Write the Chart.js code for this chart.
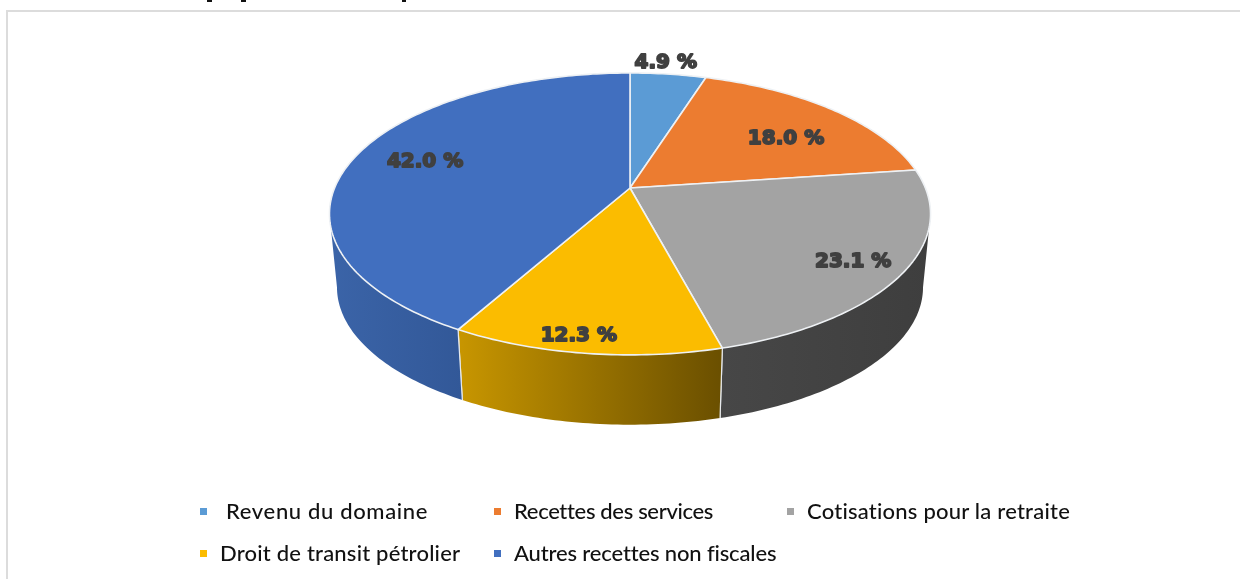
<!DOCTYPE html>
<html><head><meta charset="utf-8">
<style>
html,body{margin:0;padding:0;background:#fff;}
#wrap{position:relative;width:1240px;height:579px;overflow:hidden;background:#fff;}
#frame{position:absolute;left:6px;top:10px;width:1300px;height:700px;border:2px solid #dcdcdc;box-sizing:border-box;}
canvas{position:absolute;left:0;top:0;}
.lg{position:absolute;font:500 22px Lato,sans-serif;color:#111;white-space:nowrap;line-height:26px;}
.mk{position:absolute;width:7px;height:7px;}
.cut{position:absolute;top:0;height:2px;background:#111;}
</style></head>
<body><div id="wrap"><div id="frame"></div>
<div class="cut" style="left:207px;width:5px"></div><div class="cut" style="left:241px;width:5px"></div><div class="cut" style="left:402px;width:4px"></div>
<canvas id="c" width="1240" height="579"></canvas></div>
<script src="https://cdn.jsdelivr.net/npm/chart.js@4/dist/chart.umd.min.js"></script>
<script>
const categories = ["Revenu du domaine","Recettes des services","Cotisations pour la retraite","Droit de transit pétrolier","Autres recettes non fiscales"];
const shares = [4.9,18.0,23.1,12.3,42.0];
const topColors = ["#5b9bd5","#ec7c30","#a3a3a3","#fbbc00","#416fbf"];
const sideLeft = ["#4a80b0","#c06528","#474747","#c89600","#3b64a8"];
const sideRight = ["#3a6a95","#9c5020","#3e3e3e","#6a4f00","#325898"];
const labelRadial = [1.135,0.695,0.84,0.907,0.752];
const labelAngleShift = [-1.4,4.8,1.3,2,1.9];
const legendX = [[200,226],[494,514],[787,807],[200,220],[494,514]];
const legendY = [511,511,511,553,553];
const legendSpacing = [0.65,-0.33,0.22,0.2,-0.15];

const wrap = document.getElementById('wrap');
categories.forEach((t,i)=>{
  const m=document.createElement('div');m.className='mk';m.style.cssText=`left:${legendX[i][0]}px;top:${legendY[i]-3}px;background:${topColors[i]}`;wrap.appendChild(m);
  const d=document.createElement('div');d.className='lg';d.textContent=t;d.style.left=legendX[i][1]+'px';d.style.top=(legendY[i]-13)+'px';d.style.letterSpacing=legendSpacing[i]+'px';wrap.appendChild(d);
});

// Perspective of the disc
const K=0.184, SQUASH=0.461, BOTTOM_SCALE=0.975, DEPTH=74;
function project(el,theta,f,lower){
  const u=f*Math.sin(theta), v=-f*Math.cos(theta), den=1-K*v;
  const s=lower?BOTTOM_SCALE:1;
  return {x:el.x+s*el.outerRadius*u/den, y:el.y+(lower?DEPTH:0)+s*el.outerRadius*SQUASH*v/den};
}
function angles(el){return [el.startAngle+Math.PI/2, el.endAngle+Math.PI/2];}

const ArcProto = Chart.ArcElement.prototype;
ArcProto.draw = function(ctx){
  const [a,b]=angles(this);
  ctx.save();
  ctx.beginPath();
  ctx.moveTo(this.x,this.y);
  const n=Math.max(8,Math.ceil((b-a)*60));
  for(let i=0;i<=n;i++){const p=project(this,a+(b-a)*i/n,1);ctx.lineTo(p.x,p.y);}
  ctx.closePath();
  ctx.fillStyle=this.options.backgroundColor;ctx.fill();
  ctx.lineJoin='round';ctx.lineWidth=1.6;ctx.strokeStyle='#eef1f4';ctx.stroke();
  ctx.restore();
};

const sides={id:'sides',beforeDatasetsDraw(chart){
  const ctx=chart.ctx;
  // visible rim: the near part of the disc, between its widest points
  const lo=Math.PI/2+Math.asin(K), hi=Math.PI*1.5-Math.asin(K);
  chart.getDatasetMeta(0).data.forEach((el,i)=>{
    let [a,b]=angles(el);
    a=Math.max(a,lo);b=Math.min(b,hi);
    if(b<=a)return;
    const n=Math.max(8,Math.ceil((b-a)*60));
    const pts=[],low=[];
    for(let j=0;j<=n;j++){const t=a+(b-a)*j/n;pts.push(project(el,t,1));low.push(project(el,t,1,true));}
    const xs=pts.concat(low).map(p=>p.x);
    const g=ctx.createLinearGradient(Math.min(...xs),0,Math.max(...xs),0);
    g.addColorStop(0,sideLeft[i]);g.addColorStop(1,sideRight[i]);
    ctx.save();ctx.beginPath();
    pts.forEach((p,j)=>j?ctx.lineTo(p.x,p.y):ctx.moveTo(p.x,p.y));
    low.reverse().forEach(p=>ctx.lineTo(p.x,p.y));
    ctx.closePath();ctx.fillStyle=g;ctx.fill();
    // seams between neighbouring slices
    ctx.strokeStyle='#e6e9ec';ctx.lineWidth=1.2;
    [a,b].forEach(t=>{
      if(t===lo||t===hi)return;
      const p=project(el,t,1),q=project(el,t,1,true);ctx.beginPath();ctx.moveTo(p.x,p.y);ctx.lineTo(q.x,q.y);ctx.stroke();});
    ctx.restore();
  });
}};

const sliceLabels={id:'sliceLabels',afterDatasetsDraw(chart){
  const ctx=chart.ctx;
  chart.getDatasetMeta(0).data.forEach((el,i)=>{
    const [a,b]=angles(el);
    const p=project(el,(a+b)/2+labelAngleShift[i]*Math.PI/180,labelRadial[i]);
    ctx.save();
    ctx.font='900 20px "DejaVu Sans",sans-serif';
    ctx.textAlign='center';ctx.textBaseline='middle';
    ctx.fillStyle='#404040';ctx.strokeStyle='#404040';ctx.lineWidth=1.8;ctx.lineJoin='round';
    const s=shares[i].toFixed(1)+' %';
    ctx.strokeText(s,p.x,p.y+2);ctx.fillText(s,p.x,p.y+2);
    ctx.restore();
  });
}};

new Chart(document.getElementById('c'),{
  type:'pie',
  data:{labels:categories,datasets:[{data:shares,backgroundColor:topColors,borderWidth:0,clip:false}]},
  options:{
    responsive:false,animation:false,radius:295.4,
    layout:{padding:{left:20,bottom:203}},
    plugins:{legend:{display:false},tooltip:{enabled:false},title:{display:false}}
  },
  plugins:[sides,sliceLabels]
});
</script></body></html>
